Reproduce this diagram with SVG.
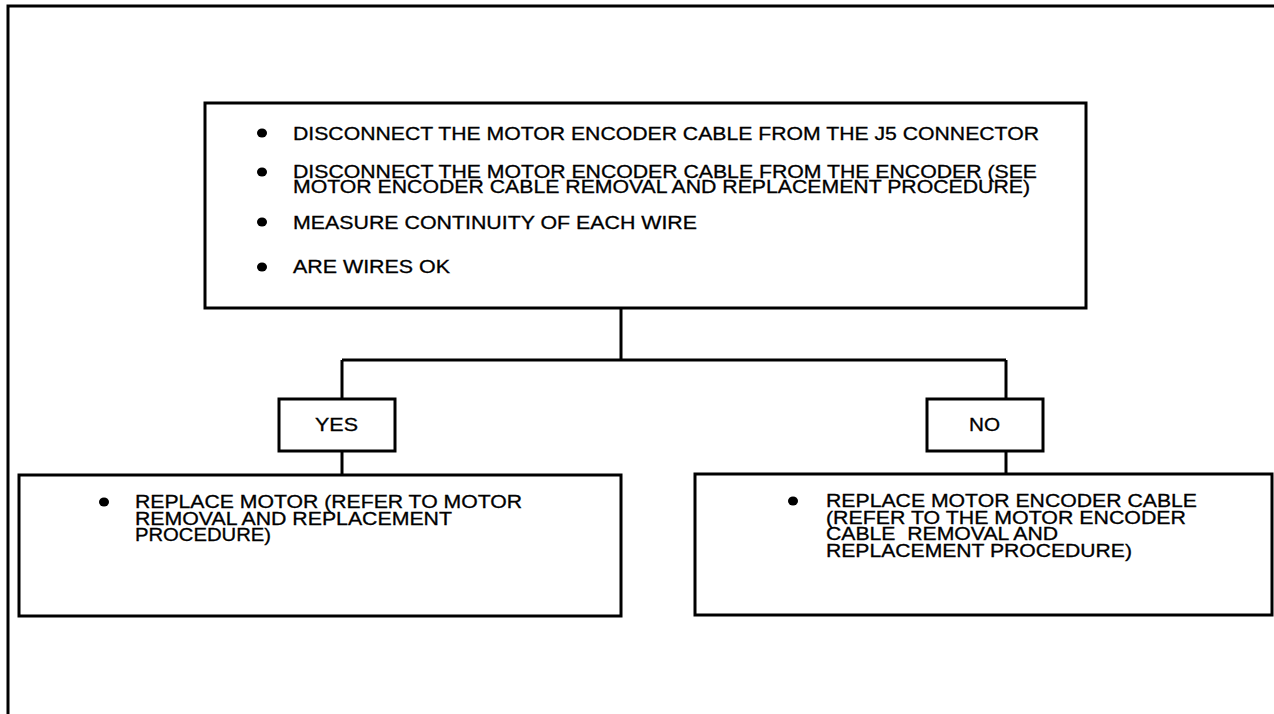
<svg xmlns="http://www.w3.org/2000/svg" width="1274" height="714" viewBox="0 0 1274 714">
<style>
.box{fill:#fff;stroke:#000;stroke-width:3}
.frame{fill:none;stroke:#000;stroke-width:3}
.conn{fill:none;stroke:#000;stroke-width:3}
.t{font-family:"Liberation Sans",Arial,Helvetica,sans-serif;font-size:18px;fill:#000;stroke:#000;stroke-width:0.3}
.b{fill:#000}
</style>
<rect width="1274" height="714" fill="#fff"/>
<g id="frame">
<path class="frame" d="M8,714 V6 H1274"/>
</g>
<g id="connectors">
<path class="conn" d="M621,308 V360"/>
<path class="conn" d="M342,360 H1006"/>
<path class="conn" d="M342,360 V399"/>
<path class="conn" d="M1006,360 V399"/>
<path class="conn" d="M342,451 V475"/>
<path class="conn" d="M1006,451 V474"/>
</g>
<g id="main-step">
<rect class="box" x="205" y="103" width="881" height="205"/>
<ellipse class="b" cx="262" cy="133" rx="5" ry="4.5"/>
<text class="t" x="293" y="139.5" textLength="746" lengthAdjust="spacingAndGlyphs">DISCONNECT THE MOTOR ENCODER CABLE FROM THE J5 CONNECTOR</text>
<ellipse class="b" cx="262" cy="172" rx="5" ry="4.5"/>
<text class="t" x="293" y="178" textLength="744" lengthAdjust="spacingAndGlyphs">DISCONNECT THE MOTOR ENCODER CABLE FROM THE ENCODER (SEE</text>
<text class="t" x="293" y="193" textLength="737" lengthAdjust="spacingAndGlyphs">MOTOR ENCODER CABLE REMOVAL AND REPLACEMENT PROCEDURE)</text>
<ellipse class="b" cx="262" cy="222" rx="5" ry="4.5"/>
<text class="t" x="293" y="228.5" textLength="404" lengthAdjust="spacingAndGlyphs">MEASURE CONTINUITY OF EACH WIRE</text>
<ellipse class="b" cx="262" cy="267" rx="5" ry="4.5"/>
<text class="t" x="293" y="273" textLength="157" lengthAdjust="spacingAndGlyphs">ARE WIRES OK</text>
</g>
<g id="yes">
<rect class="box" x="279" y="399" width="116" height="52"/>
<text class="t" x="315" y="431" textLength="43" lengthAdjust="spacingAndGlyphs">YES</text>
</g>
<g id="no">
<rect class="box" x="927" y="399" width="116" height="52"/>
<text class="t" x="969" y="431" textLength="31" lengthAdjust="spacingAndGlyphs">NO</text>
</g>
<g id="replace-motor">
<rect class="box" x="19" y="475" width="602" height="141"/>
<ellipse class="b" cx="104" cy="502" rx="5" ry="4.5"/>
<text class="t" x="135" y="508" textLength="387" lengthAdjust="spacingAndGlyphs">REPLACE MOTOR (REFER TO MOTOR</text>
<text class="t" x="135" y="524.5" textLength="317" lengthAdjust="spacingAndGlyphs">REMOVAL AND REPLACEMENT</text>
<text class="t" x="135" y="541" textLength="136" lengthAdjust="spacingAndGlyphs">PROCEDURE)</text>
</g>
<g id="replace-cable">
<rect class="box" x="695" y="474" width="577" height="141"/>
<ellipse class="b" cx="793" cy="501" rx="5" ry="4.5"/>
<text class="t" x="826" y="507" textLength="371" lengthAdjust="spacingAndGlyphs">REPLACE MOTOR ENCODER CABLE</text>
<text class="t" x="826" y="523.5" textLength="360" lengthAdjust="spacingAndGlyphs">(REFER TO THE MOTOR ENCODER</text>
<text class="t" x="826" y="540" textLength="232" lengthAdjust="spacingAndGlyphs" xml:space="preserve">CABLE  REMOVAL AND</text>
<text class="t" x="826" y="556.5" textLength="306" lengthAdjust="spacingAndGlyphs">REPLACEMENT PROCEDURE)</text>
</g>
</svg>
